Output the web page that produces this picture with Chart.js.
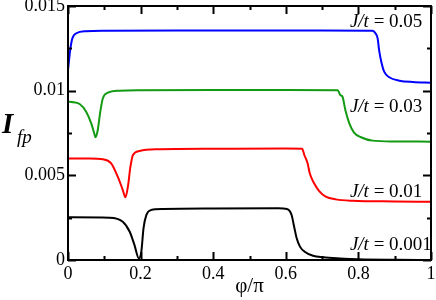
<!DOCTYPE html>
<html>
<head>
<meta charset="utf-8">
<script src="https://cdn.jsdelivr.net/npm/chart.js@4"></script>
<style>
  html, body { margin: 0; padding: 0; background: #fff; }
  #wrap { width: 436px; height: 300px; }
</style>
</head>
<body>
<div id="wrap"><canvas id="grafico"></canvas></div>
<script>
// phi/pi positions and I_fp values, one pair per curve
const phi005 = [0, 0.006, 0.012, 0.023, 0.05, 0.1, 0.3, 0.5, 0.7, 0.838, 0.843, 0.847, 0.853, 0.857, 0.864, 0.871, 0.885, 0.913, 0.95, 1.0];
const ifp005 = [0.01122, 0.0124, 0.01309, 0.01339, 0.01351, 0.01354, 0.01355, 0.01355, 0.01355, 0.01354, 0.0135, 0.01339, 0.01309, 0.0124, 0.01162, 0.01112, 0.01079, 0.01059, 0.01051, 0.01047];

const phi003 = [0, 0.01, 0.032, 0.05, 0.064, 0.072, 0.076, 0.082, 0.089, 0.096, 0.11, 0.142, 0.2, 0.4, 0.6, 0.743, 0.75, 0.756, 0.764, 0.775, 0.788, 0.807, 0.839, 0.9, 1.0];
const ifp003 = [0.00935, 0.00933, 0.00921, 0.00876, 0.00807, 0.0075, 0.00725, 0.00768, 0.00876, 0.00955, 0.00988, 0.0100, 0.01003, 0.01004, 0.01004, 0.01003, 0.00974, 0.00965, 0.00886, 0.00807, 0.00752, 0.00725, 0.00705, 0.007, 0.00699];

const phi001 = [0, 0.059, 0.096, 0.119, 0.137, 0.151, 0.158, 0.165, 0.172, 0.179, 0.197, 0.243, 0.4, 0.6, 0.645, 0.651, 0.66, 0.666, 0.678, 0.692, 0.71, 0.738, 0.784, 0.9, 1.0];
const ifp001 = [0.006, 0.006, 0.00595, 0.00571, 0.00492, 0.00413, 0.0037, 0.00433, 0.00551, 0.0062, 0.00644, 0.00654, 0.00657, 0.00658, 0.00657, 0.0062, 0.00571, 0.00512, 0.00453, 0.00407, 0.00374, 0.00358, 0.0035, 0.00346, 0.00344];

const phi0001 = [0, 0.114, 0.151, 0.17, 0.183, 0.195, 0.202, 0.208, 0.216, 0.229, 0.262, 0.4, 0.58, 0.603, 0.616, 0.622, 0.63, 0.639, 0.652, 0.675, 0.703, 0.749, 0.8, 0.9, 1.0];
const ifp0001 = [0.00252, 0.0025, 0.00226, 0.00167, 0.00089, 0.0001, 0.00049, 0.00187, 0.00266, 0.00295, 0.00301, 0.00304, 0.00305, 0.00301, 0.00266, 0.00207, 0.00128, 0.00079, 0.00049, 0.00025, 0.00016, 0.00009, 0.00004, 0.00001, 0];

const rotulos = ['0.05', '0.03', '0.01', '0.001'];
const xTicks = [0, 0.2, 0.4, 0.6, 0.8, 1];
const yTicks = [0, 0.005, 0.01, 0.015];

const fonte = '"Liberation Serif", "Times New Roman", serif';

function pares(xs, ys) {
  return xs.map((x, i) => ({ x: x, y: ys[i] }));
}

function serie(xs, ys, cor) {
  return {
    data: pares(xs, ys),
    borderColor: cor,
    borderWidth: 2,
    pointRadius: 0,
    cubicInterpolationMode: 'monotone',
    fill: false
  };
}

// frame, inward ticks on all four sides, curve labels and the I_fp title
const moldura = {
  id: 'moldura',
  afterDraw(chart) {
    const c = chart.ctx;
    const a = chart.chartArea;
    const sx = chart.scales.x, sy = chart.scales.y;
    c.save();
    c.strokeStyle = '#000';
    c.lineWidth = 2;
    c.strokeRect(a.left, a.top, a.right - a.left, a.bottom - a.top);
    c.beginPath();
    for (let i = 0; i <= 10; i++) {
      const v = i / 10;
      const px = Math.round(sx.getPixelForValue(v)) + 0.5;
      const len = i % 2 === 0 ? 8 : 4;
      c.moveTo(px, a.bottom); c.lineTo(px, a.bottom - len);
      c.moveTo(px, a.top); c.lineTo(px, a.top + len);
    }
    for (let i = 0; i <= 6; i++) {
      const v = i * 0.0025;
      const py = Math.round(sy.getPixelForValue(v)) + 0.5;
      const len = i % 2 === 0 ? 8 : 4;
      c.moveTo(a.left, py); c.lineTo(a.left + len, py);
      c.moveTo(a.right, py); c.lineTo(a.right - len, py);
    }
    c.stroke();

    // J/t labels
    const alturas = [0.01378, 0.00876, 0.00374, 0.00059];
    const lx = sx.getPixelForValue(0.7766);
    c.fillStyle = '#000';
    c.textBaseline = 'alphabetic';
    rotulos.forEach((r, i) => {
      const ly = sy.getPixelForValue(alturas[i]);
      c.font = 'italic 19px ' + fonte;
      c.fillText('J/t', lx, ly);
      const w = c.measureText('J/t').width;
      c.font = '19px ' + fonte;
      c.fillText(' = ' + r, lx + w, ly);
    });

    // y title with subscript
    c.font = 'italic bold 29px ' + fonte;
    c.fillText('I', 2, 133);
    c.font = 'italic 19px ' + fonte;
    c.fillText('fp', 17, 143);
    c.restore();
  }
};

new Chart(document.getElementById('grafico'), {
  type: 'line',
  data: {
    datasets: [
      serie(phi005, ifp005, '#0000ff'),
      serie(phi003, ifp003, '#139a13'),
      serie(phi001, ifp001, '#ff0000'),
      serie(phi0001, ifp0001, '#000000')
    ]
  },
  options: {
    responsive: true,
    maintainAspectRatio: false,
    animation: false,
    layout: { padding: { left: 0, right: 5, top: 6, bottom: 0 } },
    plugins: { legend: { display: false }, tooltip: { enabled: false } },
    scales: {
      x: {
        type: 'linear',
        min: 0, max: 1,
        grid: { display: false, drawTicks: false },
        border: { display: false },
        afterBuildTicks: s => { s.ticks = xTicks.map(v => ({ value: v })); },
        afterFit: s => { s.height = 40; s.paddingLeft = 0; s.paddingRight = 0; },
        ticks: {
          color: '#000',
          padding: 3,
          maxRotation: 0,
          font: { family: fonte, size: 18 },
          callback: v => String(v)
        },
        title: {
          display: true,
          text: 'φ/π',
          color: '#000',
          padding: { top: 0, bottom: 1 },
          font: { family: fonte, size: 21 }
        }
      },
      y: {
        type: 'linear',
        min: 0, max: 0.015,
        grid: { display: false, drawTicks: false },
        border: { display: false },
        afterBuildTicks: s => { s.ticks = yTicks.map(v => ({ value: v })); },
        afterFit: s => { s.width = 68; s.paddingTop = 0; s.paddingBottom = 0; },
        ticks: {
          color: '#000',
          padding: 3,
          font: { family: fonte, size: 18 },
          callback: v => String(v)
        }
      }
    }
  },
  plugins: [moldura]
});
</script>
</body>
</html>
